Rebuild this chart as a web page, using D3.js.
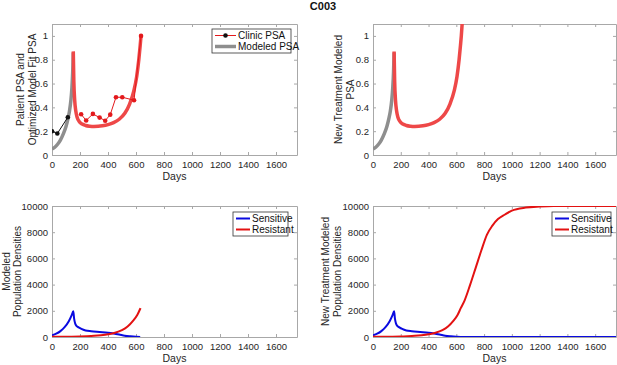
<!DOCTYPE html>
<html>
<head>
<meta charset="utf-8">
<script src="https://cdn.jsdelivr.net/npm/d3@7"></script>
<style>
  body { margin: 0; background: #fff; }
  svg { display: block; font-family: "Liberation Sans Narrow", "Arial Narrow", "Liberation Sans", Arial, sans-serif; }
  .tick text { fill: #262626; font-size: 9.5px; }
  .lbl { fill: #262626; font-size: 10px; }
</style>
</head>
<body>
<div id="chart"></div>
<script>
// DATA
const xTicks = [0, 200, 400, 600, 800, 1000, 1200, 1400, 1600];
const psaTicks = [0, 0.2, 0.4, 0.6, 0.8, 1];
const popTicks = [0, 2000, 4000, 6000, 8000, 10000];

// grey modeled PSA before treatment
const preDays = [0, 20, 40, 60, 80, 100, 115, 125, 135, 142, 148, 152];
const preVals = [0.05, 0.065, 0.09, 0.125, 0.175, 0.24, 0.31, 0.37, 0.46, 0.56, 0.7, 0.86];

// red modeled PSA after treatment
const postDays = [152, 156, 162, 170, 180, 195, 215, 240, 270, 300, 330, 360, 400, 440, 480, 520, 555, 585, 605, 620, 630, 636, 642, 650];
const postVals = [0.87, 0.62, 0.46, 0.37, 0.315, 0.28, 0.26, 0.248, 0.242, 0.24, 0.241, 0.245, 0.255, 0.272, 0.3, 0.35, 0.43, 0.54, 0.66, 0.8, 0.92, 1.0, 1.1, 1.25];

// clinic PSA
const clinicPreDays = [0, 38, 113];
const clinicPreVals = [0.2, 0.18, 0.317];
const clinicDays = [208, 244, 292, 340, 380, 416, 457, 502, 586, 636];
const clinicVals = [0.342, 0.29, 0.345, 0.314, 0.288, 0.339, 0.485, 0.485, 0.46, 1.0];

// population densities
const senDays = [0, 30, 60, 90, 120, 140, 152, 158, 165, 175, 190, 210, 240, 280, 320, 360, 400, 440, 480, 520, 560, 600, 630, 700, 1750];
const senVals = [120, 250, 450, 750, 1200, 1650, 1960, 1400, 1050, 850, 740, 620, 500, 440, 400, 370, 330, 270, 190, 100, 50, 15, 0, 0, 0];
const resDays = [0, 100, 200, 250, 300, 350, 400, 450, 500, 540, 580, 610, 632, 660, 700, 740, 780, 820, 860, 900, 950, 1000, 1100, 1200, 1300, 1500, 1750];
const resVals = [10, 20, 40, 60, 90, 140, 210, 320, 520, 800, 1250, 1700, 2200, 2800, 4000, 5300, 6600, 7800, 8500, 9000, 9350, 9650, 9880, 9960, 10000, 10000, 10000];

const zip = (xs, ys) => xs.map((x, i) => ({ x: x, y: ys[i] }));

const W = 617, H = 365;
const svg = d3.select("#chart").append("svg")
    .attr("width", W)
    .attr("height", H);

svg.append("text")
    .attr("x", 323).attr("y", 10)
    .attr("text-anchor", "middle")
    .style("font-size", "11px")
    .style("font-weight", "bold")
    .attr("fill", "#111")
    .text("C003");

let clipId = 0;

function drawPanel(p) {
    const x = d3.scaleLinear().domain([0, 1750]).range([p.left, p.right]);
    const y = d3.scaleLinear().domain(p.yDomain).range([p.bottom, p.top]);
    const g = svg.append("g");

    const id = "clip" + (clipId++);
    g.append("clipPath").attr("id", id)
        .append("rect")
        .attr("x", p.left).attr("y", p.top)
        .attr("width", p.right - p.left).attr("height", p.bottom - p.top);

    // axes (MATLAB style, ticks inward on all sides)
    const axColor = "#a8a8a8";
    const xb = g.append("g").attr("transform", `translate(0,${p.bottom})`)
        .call(d3.axisBottom(x).tickValues(xTicks).tickSize(-3).tickPadding(6).tickFormat(d3.format("d")).tickSizeOuter(0));
    const xt = g.append("g").attr("transform", `translate(0,${p.top})`)
        .call(d3.axisTop(x).tickValues(xTicks).tickSize(-3).tickFormat("").tickSizeOuter(0));
    const yl = g.append("g").attr("transform", `translate(${p.left},0)`)
        .call(d3.axisLeft(y).tickValues(p.yTicks).tickSize(-3).tickPadding(4).tickFormat(p.fmt).tickSizeOuter(0));
    const yr = g.append("g").attr("transform", `translate(${p.right},0)`)
        .call(d3.axisRight(y).tickValues(p.yTicks).tickSize(-3).tickFormat("").tickSizeOuter(0));
    [xb, xt, yl, yr].forEach(a => {
        a.select(".domain").attr("stroke", axColor);
        a.selectAll(".tick line").attr("stroke", axColor);
        a.attr("font-family", null).attr("font-size", null);
    });

    g.append("text").attr("class", "lbl")
        .attr("x", (p.left + p.right) / 2).attr("y", p.bottom + 25)
        .attr("text-anchor", "middle")
        .style("font-size", "10.5px")
        .text("Days");

    const cy = (p.top + p.bottom) / 2;
    p.ylabel.forEach((t, i) => {
        g.append("text").attr("class", "lbl")
            .attr("transform", `translate(${p.ylabelX[i]},${cy}) rotate(-90)`)
            .attr("text-anchor", "middle")
            .attr("dy", "0.35em")
            .text(t);
    });

    const line = d3.line().x(d => x(d.x)).y(d => y(d.y)).curve(d3.curveMonotoneX);
    const plot = g.append("g").attr("clip-path", `url(#${id})`);
    p.series.forEach(s => {
        plot.append("path")
            .datum(s.data)
            .attr("fill", "none")
            .attr("stroke", s.color)
            .attr("stroke-width", s.width)
            .attr("stroke-linejoin", "round")
            .attr("d", s.straight ? d3.line().x(d => x(d.x)).y(d => y(d.y))(s.data) : line(s.data));
        if (s.dots) {
            plot.selectAll(null).data(s.data).enter().append("circle")
                .attr("cx", d => x(d.x)).attr("cy", d => y(d.y))
                .attr("r", 2.3).attr("fill", s.color);
        }
    });

    if (p.legend) {
        const L = p.legend;
        const lg = g.append("g");
        lg.append("rect")
            .attr("x", L.x).attr("y", L.y).attr("width", L.w).attr("height", L.h)
            .attr("fill", "#fff").attr("stroke", "#333").attr("stroke-width", 0.8);
        L.items.forEach((it, i) => {
            const ry = L.y + 6.5 + i * 11;
            lg.append("line")
                .attr("x1", L.x + 3).attr("x2", L.x + L.lineW)
                .attr("y1", ry).attr("y2", ry)
                .attr("stroke", it.color).attr("stroke-width", it.width);
            if (it.dot) {
                lg.append("circle").attr("cx", L.x + 3 + (L.lineW - 3) / 2).attr("cy", ry)
                    .attr("r", 2.3).attr("fill", it.dot);
            }
            lg.append("text")
                .attr("x", L.x + L.lineW + 2).attr("y", ry)
                .attr("dy", "0.35em")
                .style("font-size", "10px")
                .attr("fill", "#111")
                .text(it.label);
        });
    }
}

const grey = "#8e8e8e", modelRed = "#ee4848", dotRed = "#e3191c", blue = "#0a0ae0", red = "#e31212";
const fmtPsa = d => d3.format("")(d);

// top-left
drawPanel({
    left: 52, right: 297, top: 24, bottom: 155,
    yDomain: [0, 1.1], yTicks: psaTicks, fmt: fmtPsa,
    ylabel: ["Patient PSA and", "Optimized Model Fit PSA"], ylabelX: [20, 32],
    series: [
        { data: zip(preDays, preVals), color: grey, width: 3.5 },
        { data: zip(postDays, postVals).filter(d => d.x <= 636), color: modelRed, width: 3.5 },
        { data: zip(clinicPreDays, clinicPreVals), color: "#111", width: 1, dots: true, straight: true },
        { data: zip(clinicDays, clinicVals), color: dotRed, width: 1, dots: true, straight: true }
    ],
    legend: { x: 212, y: 29, w: 79, h: 24, lineW: 24, items: [
        { label: "Clinic PSA", color: dotRed, width: 1, dot: "#111" },
        { label: "Modeled PSA", color: grey, width: 3.5 }
    ] }
});

// top-right
drawPanel({
    left: 373, right: 616, top: 24, bottom: 155,
    yDomain: [0, 1.1], yTicks: psaTicks, fmt: fmtPsa,
    ylabel: ["New Treatment Modeled", "PSA"], ylabelX: [338, 350],
    series: [
        { data: zip(preDays, preVals), color: grey, width: 3.5 },
        { data: zip(postDays, postVals), color: modelRed, width: 3.5 }
    ]
});

// bottom-left
drawPanel({
    left: 52, right: 297, top: 206, bottom: 337,
    yDomain: [0, 10000], yTicks: popTicks, fmt: d3.format("d"),
    ylabel: ["Modeled", "Population Densities"], ylabelX: [6, 17],
    series: [
        { data: zip(senDays, senVals).filter(d => d.x <= 630), color: blue, width: 2 },
        { data: zip(resDays, resVals).filter(d => d.x <= 632), color: red, width: 2 }
    ],
    legend: { x: 233, y: 212, w: 55, h: 24, lineW: 17, items: [
        { label: "Sensitive", color: blue, width: 2 },
        { label: "Resistant", color: red, width: 2 }
    ] }
});

// bottom-right
drawPanel({
    left: 373, right: 616, top: 206, bottom: 337,
    yDomain: [0, 10000], yTicks: popTicks, fmt: d3.format("d"),
    ylabel: ["New Treatment Modeled", "Population Densities"], ylabelX: [325, 337],
    series: [
        { data: zip(senDays, senVals), color: blue, width: 2 },
        { data: zip(resDays, resVals), color: red, width: 2 }
    ],
    legend: { x: 552, y: 212, w: 59, h: 24, lineW: 17, items: [
        { label: "Sensitive", color: blue, width: 2 },
        { label: "Resistant", color: red, width: 2 }
    ] }
});
</script>
</body>
</html>
